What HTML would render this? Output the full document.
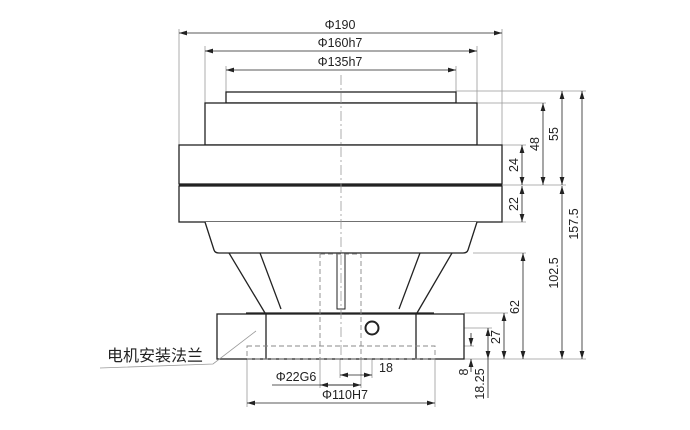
<!DOCTYPE html>
<html><head><meta charset="utf-8"><style>
body{margin:0;background:#fff}
svg{display:block}
text{font-family:"Liberation Sans","Noto Sans CJK SC",sans-serif;fill:#222}
</style></head><body>
<svg width="690" height="430" viewBox="0 0 690 430" xmlns="http://www.w3.org/2000/svg">
<defs>
<marker id="a" viewBox="0 0 10 6" refX="10" refY="3" markerWidth="8" markerHeight="5" orient="auto-start-reverse" markerUnits="userSpaceOnUse"><path d="M0,0L10,3L0,6z" fill="#222"/></marker>
</defs>
<g stroke="#999" stroke-width="0.8" fill="none">
<line x1="179" y1="29" x2="179" y2="145"/><line x1="502" y1="29" x2="502" y2="145"/>
<line x1="205" y1="46" x2="205" y2="103"/><line x1="477" y1="46" x2="477" y2="103"/>
<line x1="226" y1="66" x2="226" y2="92"/><line x1="456" y1="66" x2="456" y2="92"/>
<line x1="456" y1="91" x2="586" y2="91"/>
<line x1="477" y1="103" x2="546" y2="103"/>
<line x1="502" y1="145" x2="526" y2="145"/>
<line x1="502" y1="185" x2="566" y2="185"/>
<line x1="502" y1="222" x2="526" y2="222"/>
<line x1="473" y1="253" x2="526" y2="253"/>
<line x1="464" y1="313" x2="508" y2="313"/>
<line x1="378" y1="328" x2="492" y2="328"/>
<line x1="435" y1="346" x2="474" y2="346"/>
<line x1="464" y1="359" x2="586" y2="359"/>
<line x1="247" y1="359" x2="247" y2="407"/><line x1="435" y1="359" x2="435" y2="407"/>
<line x1="340" y1="359" x2="340" y2="378"/><line x1="372" y1="334" x2="372" y2="378"/>
<line x1="361" y1="359" x2="361" y2="388"/><line x1="320" y1="359" x2="320" y2="388"/>
</g>
<g stroke="#222" stroke-width="0.8" fill="none">
<line x1="179" y1="33" x2="502" y2="33" marker-start="url(#a)" marker-end="url(#a)"/>
<line x1="205" y1="51" x2="477" y2="51" marker-start="url(#a)" marker-end="url(#a)"/>
<line x1="226" y1="70" x2="456" y2="70" marker-start="url(#a)" marker-end="url(#a)"/>
<line x1="543" y1="103" x2="543" y2="185" marker-start="url(#a)" marker-end="url(#a)"/>
<line x1="562" y1="91" x2="562" y2="185" marker-start="url(#a)" marker-end="url(#a)"/>
<line x1="582" y1="91" x2="582" y2="359" marker-start="url(#a)" marker-end="url(#a)"/>
<line x1="522" y1="145" x2="522" y2="185" marker-start="url(#a)" marker-end="url(#a)"/>
<line x1="522" y1="186" x2="522" y2="222" marker-start="url(#a)" marker-end="url(#a)"/>
<line x1="562" y1="186" x2="562" y2="359" marker-start="url(#a)" marker-end="url(#a)"/>
<line x1="523" y1="253" x2="523" y2="359" marker-start="url(#a)" marker-end="url(#a)"/>
<line x1="504" y1="313" x2="504" y2="359" marker-start="url(#a)" marker-end="url(#a)"/>
<line x1="471" y1="333" x2="471" y2="346" marker-end="url(#a)"/>
<line x1="471" y1="372" x2="471" y2="359" marker-end="url(#a)"/>
<line x1="488" y1="328" x2="488" y2="359" marker-start="url(#a)" marker-end="url(#a)"/>
<line x1="488" y1="359" x2="488" y2="398"/>
<line x1="247" y1="403" x2="435" y2="403" marker-start="url(#a)" marker-end="url(#a)"/>
<line x1="272" y1="385" x2="361" y2="385"/>
<line x1="320" y1="385" x2="361" y2="385" marker-start="url(#a)" marker-end="url(#a)"/>
<line x1="340" y1="375" x2="372" y2="375" marker-start="url(#a)" marker-end="url(#a)"/>
</g>
<g stroke="#222" stroke-width="1.3" fill="#fff">
<rect x="226" y="92" width="230" height="11"/>
<rect x="205" y="103" width="272" height="42"/>
<rect x="179" y="145" width="323" height="39"/>
<rect x="179" y="186" width="323" height="36"/>
<path d="M205,222 L214,250 Q215,253 219,253 L463,253 Q467,253 468,250 L477,222"/>
<rect x="217" y="314" width="247" height="45"/>
<line x1="266" y1="314" x2="266" y2="359"/><line x1="416" y1="314" x2="416" y2="359"/>
<line x1="229" y1="253" x2="265" y2="313"/><line x1="260" y1="253" x2="281" y2="309"/>
<line x1="452" y1="253" x2="417" y2="313"/><line x1="420" y1="253" x2="399" y2="309"/>
<line x1="246" y1="313" x2="434" y2="313"/>
<rect x="337" y="253" width="8" height="56" stroke-width="1"/>
<circle cx="372" cy="328" r="6.5" stroke-width="2"/>
</g>
<line x1="179" y1="185" x2="502" y2="185" stroke="#222" stroke-width="2.5"/>
<g stroke="#888" stroke-width="0.9" fill="none" stroke-dasharray="5,3">
<rect x="247" y="346" width="188" height="13"/>
<line x1="320" y1="253" x2="320" y2="359"/><line x1="361" y1="253" x2="361" y2="359"/>
<line x1="320" y1="254" x2="361" y2="254"/>
</g>
<g stroke="#999" stroke-width="0.8" fill="none">
<line x1="341" y1="75" x2="341" y2="360" stroke-dasharray="10,3,2,3"/>
<polyline points="256,331 213,364 100,368"/>
</g>
<g font-size="12.5" text-anchor="middle">
<text x="340" y="29">Φ190</text>
<text x="340" y="47">Φ160h7</text>
<text x="340" y="66">Φ135h7</text>
<text x="345" y="399">Φ110H7</text>
<text x="296" y="381">Φ22G6</text>
<text x="386" y="372">18</text>
<text x="155" y="361" font-size="16">电机安装法兰</text>
<text transform="translate(539,144) rotate(-90)">48</text>
<text transform="translate(558,134) rotate(-90)">55</text>
<text transform="translate(578,224) rotate(-90)">157.5</text>
<text transform="translate(518,165) rotate(-90)">24</text>
<text transform="translate(518,204) rotate(-90)">22</text>
<text transform="translate(558,273) rotate(-90)">102.5</text>
<text transform="translate(519,307) rotate(-90)">62</text>
<text transform="translate(500,337) rotate(-90)">27</text>
<text transform="translate(468,372) rotate(-90)">8</text>
<text transform="translate(484,384) rotate(-90)">18.25</text>
</g>
</svg>
</body></html>
